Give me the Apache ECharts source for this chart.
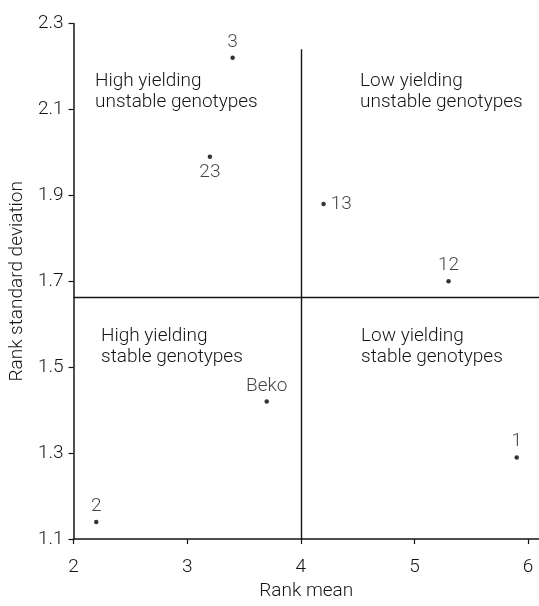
<!DOCTYPE html>
<html>
<head>
<meta charset="utf-8">
<script src="https://cdn.jsdelivr.net/npm/echarts@6/dist/echarts.min.js"></script>
<style>
html,body{margin:0;padding:0;background:#fff;}
#chart{width:539px;height:606px;}
</style>
</head>
<body>
<div id="chart"></div>
<script>
var genotypes = ['2', '3', '23', '13', '12', 'Beko', '1'];
var rankMean = [2.2, 3.4, 3.2, 4.2, 5.3, 3.7, 5.9];
var rankSD = [1.14, 2.22, 1.99, 1.88, 1.70, 1.42, 1.29];
var labelPos = ['top', 'top', 'bottom', 'right', 'top', 'top', 'top'];
var xTicks = [2, 3, 4, 5, 6];
var yTicks = [1.1, 1.3, 1.5, 1.7, 1.9, 2.1, 2.3];
var meanCut = 4;
var sdCut = 1.662;
var vLineTop = 2.24;
var quadrantTexts = [
  'High yielding\nunstable genotypes',
  'Low yielding\nunstable genotypes',
  'High yielding\nstable genotypes',
  'Low yielding\nstable genotypes'
];

var FONT = 'Roboto, sans-serif';
var FW = 300;
var FS = 19;
var INK = '#141414';
var xMax = 6.096;

var chart = echarts.init(document.getElementById('chart'), null, {renderer: 'canvas'});

var data = genotypes.map(function (g, i) {
  return {
    name: g,
    value: [rankMean[i], rankSD[i]],
    label: {position: labelPos[i], distance: labelPos[i] === 'right' ? 5 : 4}
  };
});

var qPos = [[95, 71], [360, 71], [101, 326], [361, 326]];

var txt = {fontFamily: FONT, fontWeight: FW, fontSize: FS, color: INK};

chart.setOption({
  animation: false,
  backgroundColor: '#fff',
  grid: {left: 72.5, right: 0, top: 23.5, bottom: 56, containLabel: false},
  xAxis: {
    type: 'value', min: 2, max: xMax,
    name: 'Rank mean', nameLocation: 'middle', nameGap: 40,
    nameTextStyle: txt,
    axisLine: {show: true, lineStyle: {color: INK, width: 1.5}},
    axisTick: {show: true, customValues: xTicks, length: 5, lineStyle: {color: INK, width: 1.2}},
    axisLabel: Object.assign({customValues: xTicks, margin: 19}, txt),
    splitLine: {show: false}
  },
  yAxis: {
    type: 'value', min: 1.1, max: 2.3,
    name: 'Rank standard deviation', nameLocation: 'middle', nameGap: 40,
    nameTextStyle: txt,
    axisLine: {show: true, lineStyle: {color: INK, width: 1.5}},
    axisTick: {show: true, customValues: yTicks, length: 5, lineStyle: {color: INK, width: 1.2}},
    axisLabel: Object.assign({customValues: yTicks, margin: 10,
      formatter: function (v) { return v.toFixed(1); }}, txt),
    splitLine: {show: false}
  },
  series: [{
    type: 'scatter',
    symbol: 'circle',
    symbolSize: 4.5,
    itemStyle: {color: '#000'},
    label: Object.assign({show: true, formatter: '{b}'}, txt),
    data: data,
    markLine: {
      silent: true,
      symbol: 'none',
      label: {show: false},
      lineStyle: {color: INK, width: 1.4, type: 'solid'},
      data: [
        [{coord: [meanCut, 1.1]}, {coord: [meanCut, vLineTop]}],
        [{coord: [2, sdCut]}, {coord: [xMax, sdCut]}]
      ]
    }
  }],
  graphic: quadrantTexts.map(function (t, i) {
    return {
      type: 'text', left: qPos[i][0], top: qPos[i][1],
      style: {text: t, font: FW + ' ' + FS + 'px ' + FONT, fill: INK, lineHeight: 21}
    };
  })
});
</script>
</body>
</html>
